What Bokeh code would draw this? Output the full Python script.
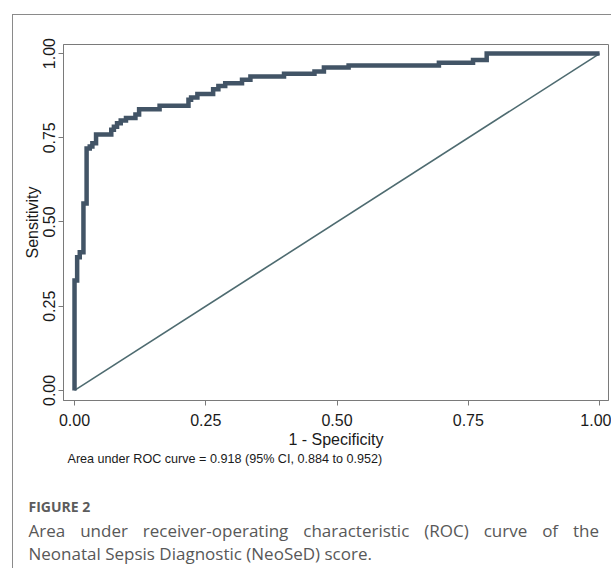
from bokeh.plotting import figure
from bokeh.models import Range1d, Title, FixedTicker, CustomJSTickFormatter
from bokeh.embed import file_html
from bokeh.resources import INLINE

# ROC curve vertices (1 - specificity, sensitivity)
roc_fpr = [0.000, 0.000, 0.005, 0.005, 0.010, 0.010, 0.017, 0.017, 0.023, 0.023,
           0.029, 0.029, 0.034, 0.034, 0.041, 0.041, 0.070, 0.070, 0.075, 0.075,
           0.081, 0.081, 0.088, 0.088, 0.098, 0.098, 0.116, 0.116, 0.123, 0.123,
           0.162, 0.162, 0.217, 0.217, 0.222, 0.222, 0.234, 0.234, 0.264, 0.264,
           0.274, 0.274, 0.287, 0.287, 0.319, 0.319, 0.335, 0.335, 0.399, 0.399,
           0.457, 0.457, 0.475, 0.475, 0.522, 0.522, 0.694, 0.694, 0.759, 0.759,
           0.785, 0.785, 1.000]
roc_tpr = [0.000, 0.326, 0.326, 0.395, 0.395, 0.410, 0.410, 0.555, 0.555, 0.718,
           0.718, 0.724, 0.724, 0.734, 0.734, 0.760, 0.760, 0.774, 0.774, 0.783,
           0.783, 0.793, 0.793, 0.801, 0.801, 0.809, 0.809, 0.819, 0.819, 0.835,
           0.835, 0.845, 0.845, 0.863, 0.863, 0.870, 0.870, 0.880, 0.880, 0.894,
           0.894, 0.904, 0.904, 0.912, 0.912, 0.922, 0.922, 0.932, 0.932, 0.940,
           0.940, 0.947, 0.947, 0.959, 0.959, 0.965, 0.965, 0.973, 0.973, 0.981,
           0.981, 1.000, 1.000]

# chance line
ref_x = [0.0, 1.0]
ref_y = [0.0, 1.0]

tick_values = [0.0, 0.25, 0.5, 0.75, 1.0]
tick_labels = ["0.00", "0.25", "0.50", "0.75", "1.00"]

auc_text = "Area under ROC curve = 0.918 (95% CI, 0.884 to 0.952)"
fig_tag = "FIGURE 2"
caption_line1 = ["Area", "under", "receiver-operating", "characteristic", "(ROC)", "curve", "of", "the"]
caption_line2 = "Neonatal Sepsis Diagnostic (NeoSeD) score."

AXIS_GREY = "#7a7a7a"
PANEL_GREY = "#8a8a8a"
SANS = "Liberation Sans"
CAP_FONT = "Open Sans"

W, H = 611, 568
FRAME_L, FRAME_R, FRAME_T, FRAME_B = 63, 608, 44, 400

p = figure(width=W, height=H, output_backend="svg", toolbar_location=None,
           x_range=Range1d(-0.021, 1.017), y_range=Range1d(-0.030, 1.027),
           min_border_left=FRAME_L, min_border_right=W - FRAME_R,
           min_border_top=FRAME_T, min_border_bottom=H - FRAME_B,
           background_fill_color="white", border_fill_color=None)

# page panel: thin grey rule along the top and left of the figure block
p.styles = {
    "background-color": "white",
    "background-image": (f"linear-gradient({PANEL_GREY}, {PANEL_GREY}), "
                         f"linear-gradient({PANEL_GREY}, {PANEL_GREY})"),
    "background-size": "1px 100%, 100% 1px",
    "background-position": "12px 14px, 12px 14px",
    "background-repeat": "no-repeat",
}

p.xgrid.visible = False
p.ygrid.visible = False
p.outline_line_color = AXIS_GREY
p.outline_line_width = 1

fmt = CustomJSTickFormatter(args=dict(labels=tick_labels, vals=tick_values), code="""
    for (let i = 0; i < vals.length; i++) { if (Math.abs(tick - vals[i]) < 1e-9) return labels[i]; }
    return tick.toFixed(2);
""")

for ax in (p.xaxis[0], p.yaxis[0]):
    ax.ticker = FixedTicker(ticks=tick_values)
    ax.formatter = fmt
    ax.axis_line_color = AXIS_GREY
    ax.major_tick_line_color = AXIS_GREY
    ax.major_tick_out = 5
    ax.major_tick_in = 0
    ax.minor_tick_line_color = None
    ax.major_label_text_font = SANS
    ax.major_label_text_font_size = "16px"
    ax.major_label_text_color = "#1a1a1a"
    ax.axis_label_text_font = SANS
    ax.axis_label_text_font_size = "16px"
    ax.axis_label_text_font_style = "normal"
    ax.axis_label_text_color = "#1a1a1a"

p.xaxis.axis_label = "1 - Specificity"
p.xaxis.major_label_standoff = 8
p.xaxis.axis_label_standoff = 2
p.yaxis.axis_label = "Sensitivity"
p.yaxis.major_label_orientation = "vertical"
p.yaxis.major_label_standoff = 3
p.yaxis.axis_label_standoff = 0

p.line(ref_x, ref_y, line_color="#4e6b70", line_width=1.6)
p.line(roc_fpr, roc_tpr, line_color="#425466", line_width=4.5, line_join="miter")

# texts under the x axis, stacked top to bottom; each sits centred in its slot
gap = "\u00a0\u00a0\u00a0\u200a"
blank = "\u00a0"
cap_x = 28 - FRAME_L
below_texts = [
    dict(text=auc_text, offset=4, standoff=-2, text_font=SANS, text_font_size="12.6px",
         text_font_style="normal", text_color="#1a1a1a"),
    dict(text=blank, offset=cap_x, standoff=8.5, text_font=CAP_FONT,
         text_font_size="14px", text_font_style="normal", text_color="#585858"),
    dict(text=fig_tag, offset=cap_x, standoff=0, text_font=CAP_FONT,
         text_font_size="14px", text_font_style="bold", text_color="#5c5c5c"),
    dict(text=gap.join(caption_line1), offset=cap_x, standoff=2, text_font=CAP_FONT,
         text_font_size="17px", text_font_style="normal", text_color="#585858"),
    dict(text=caption_line2, offset=cap_x, standoff=-6, text_font=CAP_FONT,
         text_font_size="17px", text_font_style="normal", text_color="#585858"),
    dict(text=blank, offset=cap_x, standoff=-1.9, text_font=CAP_FONT,
         text_font_size="4px", text_font_style="normal", text_color="#585858"),
]
for spec in below_texts:
    p.add_layout(Title(align="left", **spec), "below")

open("out.html", "w").write(file_html(p, INLINE))
